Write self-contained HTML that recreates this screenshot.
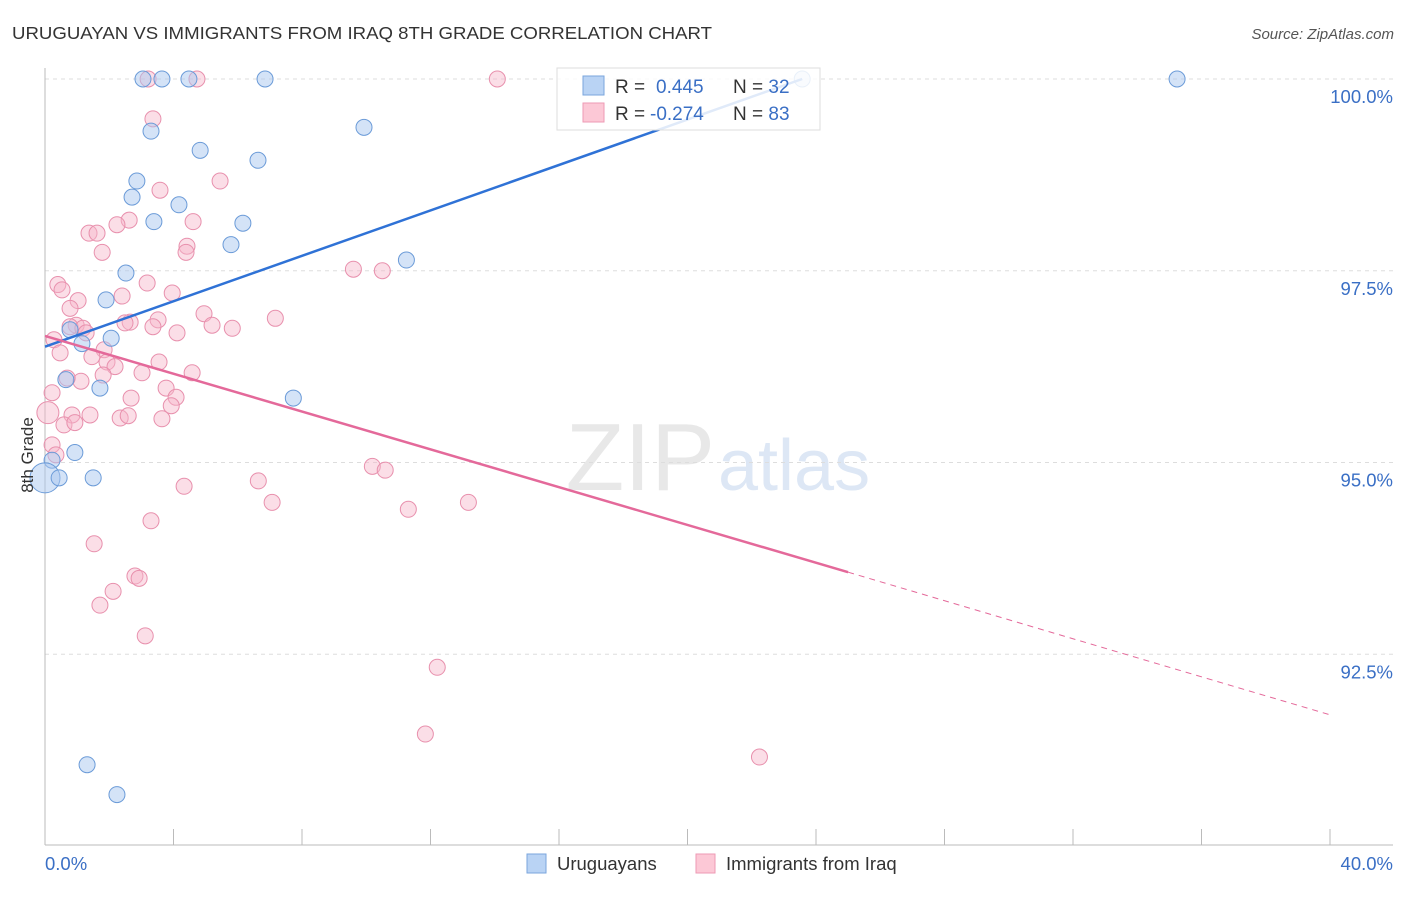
<!DOCTYPE html>
<html><head><meta charset="utf-8"><style>
body{margin:0;background:#fff;font-family:"Liberation Sans",sans-serif}
svg text{font-family:"Liberation Sans",sans-serif}
</style></head><body>
<svg id="chart" width="1406" height="892" xmlns="http://www.w3.org/2000/svg">
<text x="12" y="39" font-size="17.5" fill="#333" textLength="700" lengthAdjust="spacingAndGlyphs">URUGUAYAN VS IMMIGRANTS FROM IRAQ 8TH GRADE CORRELATION CHART</text>
<text x="1394" y="39" font-size="15" fill="#555" text-anchor="end" font-style="italic">Source: ZipAtlas.com</text>
<text x="715" y="490" font-size="96" fill="#e8e8e8" text-anchor="end" font-family="Liberation Serif">ZIP</text>
<text x="718" y="490" font-size="72" fill="#dde7f5">atlas</text>
<g id="grid"></g>
<g id="axes"></g>
<g id="marks"></g>
<text transform="translate(33,455) rotate(-90)" font-size="17" fill="#333" text-anchor="middle">8th Grade</text>
<g>
<rect x="557" y="68" width="263" height="62" fill="#fff" fill-opacity="0.85" stroke="#ddd"/>
<rect x="583" y="76" width="21" height="19" fill="#b9d3f4" stroke="#7aa6dd"/>
<rect x="583" y="103" width="21" height="19" fill="#fcc8d6" stroke="#ee9ab4"/>
<text x="615" y="93" font-size="19" fill="#333">R = <tspan x="656" fill="#3a6fc5">0.445</tspan><tspan x="733">N = </tspan><tspan fill="#3a6fc5">32</tspan></text>
<text x="615" y="120" font-size="19" fill="#333">R = <tspan x="650" fill="#3a6fc5">-0.274</tspan><tspan x="733">N = </tspan><tspan fill="#3a6fc5">83</tspan></text>
</g>
<g>
<rect x="527" y="854" width="19" height="19" fill="#b9d3f4" stroke="#7aa6dd"/>
<text x="557" y="870" font-size="18.5" fill="#333">Uruguayans</text>
<rect x="696" y="854" width="19" height="19" fill="#fcc8d6" stroke="#ee9ab4"/>
<text x="726" y="870" font-size="18.5" fill="#333">Immigrants from Iraq</text>
</g>
</svg>
<script>
const blueX=[3.05,3.64,4.48,6.85,23.57,35.24,3.30,9.93,4.83,6.63,2.86,2.71,4.17,3.39,6.16,5.79,11.25,2.52,1.90,0.78,2.06,1.15,0.65,1.71,7.73,0.93,0.22,0.0,0.44,1.50,1.31,2.24];
const blueY=[100,100,100,100,100,100,99.32,99.37,99.07,98.94,98.67,98.46,98.36,98.14,98.12,97.84,97.64,97.47,97.12,96.73,96.62,96.55,96.08,95.97,95.84,95.13,95.03,94.80,94.80,94.80,91.06,90.67];
const blueR=[8,8,8,8,8,8,8,8,8,8,8,8,8,8,8,8,8,8,8,8,8,8,8,8,8,8,8,15,8,8,8,8];
const pinkX=[3.21,4.73,14.08,3.36,3.58,5.45,2.62,4.61,2.24,1.37,1.62,1.78,4.42,4.39,9.60,10.50,0.40,0.53,3.18,3.96,2.40,1.03,0.78,4.95,7.17,3.52,2.65,2.49,5.20,5.83,3.36,4.11,0.97,0.78,1.18,1.28,0.28,0.47,1.84,1.93,2.18,1.46,3.55,1.81,3.02,4.58,1.12,0.69,0.22,3.77,4.08,2.68,3.93,0.84,1.40,0.09,2.34,2.59,0.59,0.93,3.64,0.22,0.34,10.19,10.59,6.64,4.33,7.07,13.18,11.31,3.30,1.53,2.80,2.93,2.12,1.71,3.12,12.21,11.84,22.24];
const pinkY=[100,100,100,99.48,98.55,98.67,98.16,98.14,98.10,97.99,97.99,97.74,97.82,97.74,97.52,97.50,97.32,97.25,97.34,97.21,97.17,97.11,97.01,96.94,96.88,96.86,96.83,96.82,96.79,96.75,96.77,96.69,96.79,96.77,96.75,96.69,96.60,96.43,96.47,96.31,96.25,96.38,96.31,96.14,96.17,96.17,96.06,96.10,95.91,95.97,95.85,95.84,95.74,95.62,95.62,95.65,95.58,95.61,95.49,95.52,95.57,95.23,95.10,94.95,94.90,94.76,94.69,94.48,94.48,94.39,94.24,93.94,93.52,93.49,93.32,93.14,92.74,92.33,91.46,91.16];
const blueTrendX=[0,23.57];
const blueTrendY=[96.51,100];
const pinkTrendX=[0,25.0];
const pinkTrendY=[96.65,93.57];
const pinkDashX=[25.0,40];
const pinkDashY=[93.57,91.71];
const yTicks=[100,97.5,95,92.5];
const yTickLabels=["100.0%","97.5%","95.0%","92.5%"];
const xTicks=[0,4,8,12,16,20,24,28,32,36,40];
const NS="http://www.w3.org/2000/svg";
const sx=v=>45+v*32.125;
const sy=v=>79+(100-v)*76.7;
function mk(tag,attrs,parent){const e=document.createElementNS(NS,tag);for(const k in attrs)e.setAttribute(k,attrs[k]);document.getElementById(parent).appendChild(e);return e;}
yTicks.forEach((t,i)=>{
 const l=mk('line',{x1:45,x2:1393,y1:sy(t),y2:sy(t),stroke:'#ddd','stroke-dasharray':'4,4'},'grid');
 
 
 const tx=mk('text',{x:1393,y:sy(t)+24,'font-size':18.5,fill:'#3a6fc5','text-anchor':'end'},'axes');
 tx.textContent=yTickLabels[i];
 
 
});
let a=mk('line',{x1:45,x2:45,y1:68,y2:845,stroke:'#bbb'},'axes');


a=mk('line',{x1:45,x2:1393,y1:845,y2:845,stroke:'#bbb'},'axes');


xTicks.forEach(t=>{
 const l=mk('line',{x1:sx(t),x2:sx(t),y1:829,y2:845,stroke:'#bbb'},'axes');
 
 
});
let t0=mk('text',{x:45,y:870,'font-size':18.5,fill:'#3a6fc5'},'axes');t0.textContent='0.0%';


t0=mk('text',{x:1393,y:870,'font-size':18.5,fill:'#3a6fc5','text-anchor':'end'},'axes');t0.textContent='40.0%';


pinkX.forEach((x,i)=>{
 const c=mk('circle',{cx:sx(x),cy:sy(pinkY[i]),r:i==55?11:8,fill:'#f7b6ca','fill-opacity':0.45,stroke:'#e890ad','stroke-width':1},'marks');
 
 
});
blueX.forEach((x,i)=>{
 const c=mk('circle',{cx:sx(x),cy:sy(blueY[i]),r:blueR[i],fill:'#a9c8f0','fill-opacity':0.5,stroke:'#6b9bd8','stroke-width':1},'marks');
 
 
});
let tl=mk('line',{x1:sx(blueTrendX[0]),y1:sy(blueTrendY[0]),x2:sx(blueTrendX[1]),y2:sy(blueTrendY[1]),stroke:'#2f72d6','stroke-width':2.5},'marks');


tl=mk('line',{x1:sx(pinkTrendX[0]),y1:sy(pinkTrendY[0]),x2:sx(pinkTrendX[1]),y2:sy(pinkTrendY[1]),stroke:'#e4699a','stroke-width':2.5},'marks');


tl=mk('line',{x1:sx(pinkDashX[0]),y1:sy(pinkDashY[0]),x2:sx(pinkDashX[1]),y2:sy(pinkDashY[1]),stroke:'#e4699a','stroke-width':1,'stroke-dasharray':'6,5'},'marks');


</script>
</body></html>
